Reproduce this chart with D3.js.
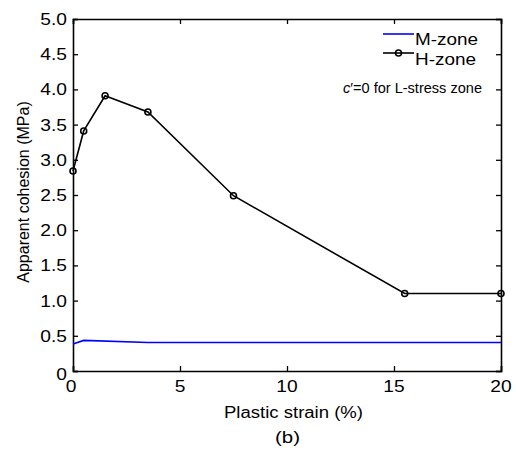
<!DOCTYPE html>
<html><head><meta charset="utf-8">
<script src="https://cdn.jsdelivr.net/npm/d3@7"></script>
<style>body{margin:0;background:#fff}svg{display:block}text{font-family:"Liberation Sans",Arial,sans-serif;fill:#000}</style>
</head><body>
<svg id="c" width="516" height="453"></svg>
<script>
const hStrain = [0, 0.5, 1.5, 3.5, 7.5, 15.5, 20];
const hCohesion = [2.84, 3.41, 3.91, 3.68, 2.49, 1.10, 1.10];
const mStrain = [0, 0.5, 3.5, 20];
const mCohesion = [0.385, 0.435, 0.405, 0.405];
const xTicks = [0, 5, 10, 15, 20];
const yTicks = [0, 0.5, 1, 1.5, 2, 2.5, 3, 3.5, 4, 4.5, 5];

const svg = d3.select("#c");
const L = 73, R = 501, T = 19, B = 371;
const x = d3.scaleLinear().domain([0, 20]).range([L, R]);
const y = d3.scaleLinear().domain([0, 5]).range([B, T]);
const SX = 1.2, FS = "16px";

const fmtY = d => d === 0 ? "0" : d3.format(".1f")(d);

function txt(px, py, s, anchor, sx) {
  return svg.append("text")
    .attr("transform", `translate(${px},${py}) scale(${sx || SX},1)`)
    .attr("text-anchor", anchor || "start").style("font-size", FS).text(s);
}

// axes (ticks only, labels drawn separately)
const gx = svg.append("g").attr("transform", `translate(0,${B})`)
  .call(d3.axisBottom(x).tickValues(xTicks).tickSize(-5).tickFormat(""));
const gxt = svg.append("g").attr("transform", `translate(0,${T})`)
  .call(d3.axisTop(x).tickValues(xTicks).tickSize(-5).tickFormat(""));
const gy = svg.append("g").attr("transform", `translate(${L},0)`)
  .call(d3.axisLeft(y).tickValues(yTicks).tickSize(-5).tickFormat(""));
const gyr = svg.append("g").attr("transform", `translate(${R},0)`)
  .call(d3.axisRight(y).tickValues(yTicks).tickSize(-5).tickFormat(""));
[gx, gxt, gy, gyr].forEach(g => {
  g.select(".domain").attr("stroke", "#000").attr("stroke-width", 1.6);
  g.selectAll(".tick line").attr("stroke", "#000").attr("stroke-width", 1.3);
});

// tick labels
xTicks.forEach(v => txt(x(v) - (v === 0 ? 2 : 0), 392, String(v), "middle"));
yTicks.forEach(v => txt(67, y(v) + (v === 0 ? 9 : 6), fmtY(v), "end"));

// lines
const line = d3.line().x(d => x(d[0])).y(d => y(d[1]));
const mData = mStrain.map((s, i) => [s, mCohesion[i]]);
const hData = hStrain.map((s, i) => [s, hCohesion[i]]);
svg.append("path").datum(mData).attr("d", line).attr("fill", "none").attr("stroke", "#0000ff").attr("stroke-width", 1.6);
svg.append("path").datum(hData).attr("d", line).attr("fill", "none").attr("stroke", "#000").attr("stroke-width", 1.6);
svg.selectAll("circle.h").data(hData).enter().append("circle")
  .attr("cx", d => x(d[0])).attr("cy", d => y(d[1])).attr("r", 3)
  .attr("fill", "none").attr("stroke", "#000").attr("stroke-width", 1.6);

// legend
svg.append("line").attr("x1", 383).attr("x2", 414).attr("y1", 34).attr("y2", 34).attr("stroke", "#0000ff").attr("stroke-width", 1.6);
svg.append("text").attr("x", 415).attr("y", 45).style("font-size", FS)
  .attr("textLength", 63).attr("lengthAdjust", "spacingAndGlyphs").text("M-zone");
svg.append("line").attr("x1", 383).attr("x2", 414).attr("y1", 53).attr("y2", 53).attr("stroke", "#000").attr("stroke-width", 1.6);
svg.append("circle").attr("cx", 398.5).attr("cy", 53).attr("r", 3).attr("fill", "none").attr("stroke", "#000").attr("stroke-width", 1.6);
svg.append("text").attr("x", 415).attr("y", 65).style("font-size", FS)
  .attr("textLength", 61).attr("lengthAdjust", "spacingAndGlyphs").text("H-zone");
const ann = svg.append("text").attr("x", 343).attr("y", 93).style("font-size", "15.5px")
  .attr("textLength", 139).attr("lengthAdjust", "spacingAndGlyphs");
ann.append("tspan").style("font-style", "italic").text("c");
ann.append("tspan").text("′=0 for L-stress zone");

// axis titles
svg.append("text").attr("x", 224).attr("y", 418).style("font-size", FS)
  .attr("textLength", 139).attr("lengthAdjust", "spacingAndGlyphs").text("Plastic strain (%)");
svg.append("text").attr("x", 275).attr("y", 443).style("font-size", FS)
  .attr("textLength", 25).attr("lengthAdjust", "spacingAndGlyphs").text("(b)");
svg.append("text").attr("transform", `translate(29,192) rotate(-90)`)
  .attr("text-anchor", "middle").style("font-size", FS).text("Apparent cohesion (MPa)");
</script>
</body></html>
